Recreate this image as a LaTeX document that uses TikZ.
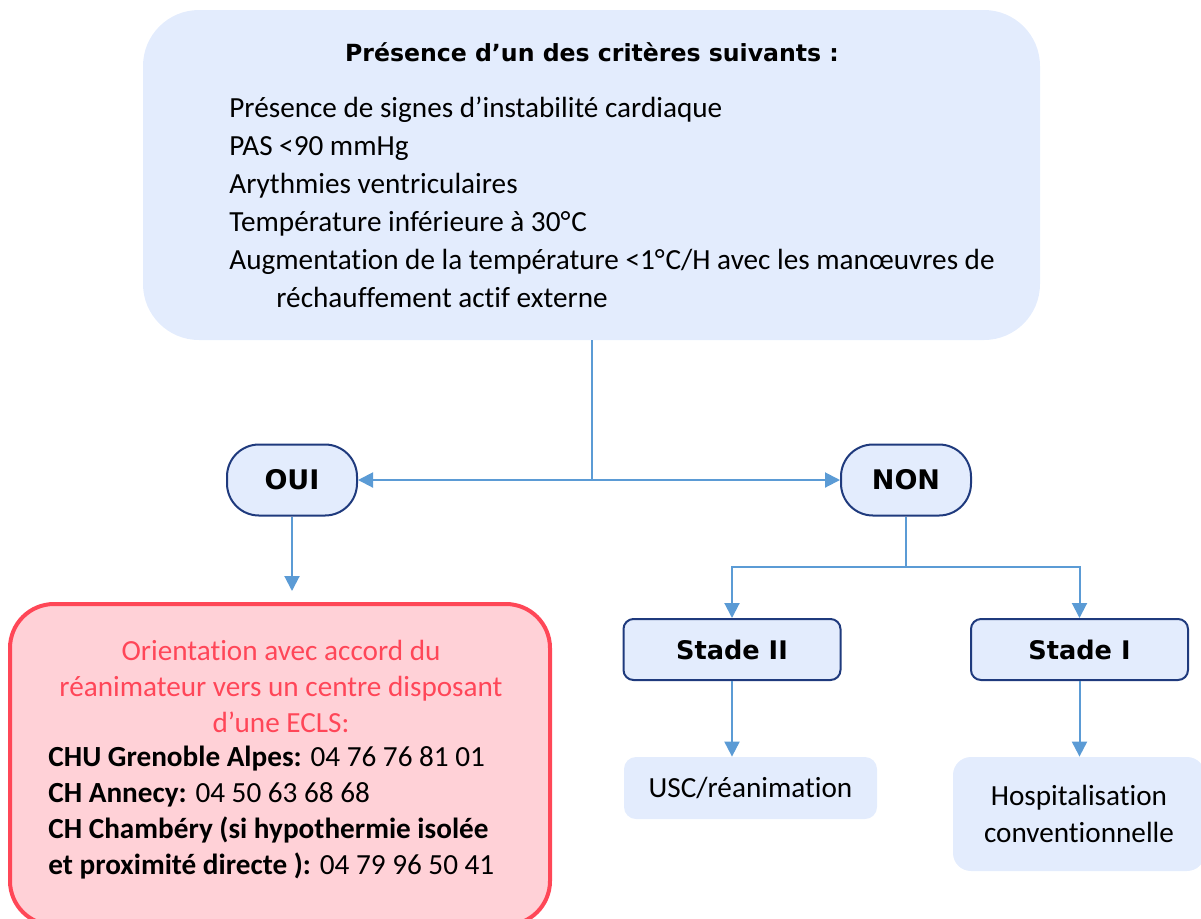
\documentclass[tikz,border=0pt]{standalone}
\usepackage{fontspec}
\setmainfont{Carlito}[RawFeature={-liga;-clig;-dlig}]
\newfontfamily\headfont{DejaVu Sans}
\usetikzlibrary{arrows.meta,positioning,calc}
\definecolor{navy}{HTML}{1F3A7D}
\definecolor{bluefill}{HTML}{E3ECFD}
\definecolor{linkblue}{HTML}{5B9BD5}
\definecolor{alertline}{HTML}{FF4757}
\definecolor{alertfill}{HTML}{FFD1D7}
\definecolor{alerttext}{HTML}{FF4658}
\tikzset{
  body/.style={font=\fontsize{14.6}{19}\selectfont, inner sep=0pt},
  head/.style={font=\headfont\bfseries\fontsize{13.5}{15}\selectfont},
  crit/.style={fill=bluefill, rounded corners=28pt, minimum width=448.5pt,
               minimum height=165pt, inner sep=0pt},
  pill/.style={head, draw=navy, line width=1pt, fill=bluefill, rounded corners=16pt,
               minimum width=65pt, minimum height=35.5pt, inner sep=0pt},
  stage/.style={head, font=\headfont\bfseries\fontsize{12.8}{15}\selectfont,
                draw=navy, line width=1pt, fill=bluefill, rounded corners=5pt,
                minimum width=108.5pt, minimum height=30.5pt, inner sep=0pt},
  dest/.style={body, fill=bluefill, align=center},
  alert/.style={draw=alertline, line width=2pt, fill=alertfill, rounded corners=22pt,
                minimum width=270pt, minimum height=160.5pt, inner sep=0pt},
  arrow/.style={-{Triangle[length=7.5pt,width=7.5pt]}, line width=1pt, draw=linkblue},
  link/.style={line width=1pt, draw=linkblue}
}

\begin{document}
\begin{tikzpicture}[x=0.5pt, y=-0.5pt]
  \useasboundingbox (0,0) rectangle (1201,918);

  \node[crit] (crit) at (591.5,175) {};
  \node[head, font=\headfont\bfseries\fontsize{11.8}{15}\selectfont, anchor=base, inner sep=0pt]
       (crittitle) at (592,61) {Présence d’un des critères suivants :};
  % base = baseline of the last line
  \node[body, align=left, anchor=base west] (critlist) at (229,307)
       {Présence de signes d’instabilité cardiaque\\
        PAS <90 mmHg\\
        Arythmies ventriculaires\\
        Température inférieure à 30°\kern0.4pt C\\
        Augmentation de la température <1°\kern0.4pt C/H avec les manœuvres de\\
        \hspace*{23.5pt}réchauffement actif externe};

  \node[pill] (oui) at (292,480) {OUI};
  \node[pill] (non) at (906,480) {NON};

  \node[alert] (ecls) at (280,764.5) {};
  \node[body, font=\fontsize{14.6}{18}\selectfont, text=alerttext, align=center, anchor=base]
       (orient) at (281,732)
       {Orientation avec accord du\\
        réanimateur vers un centre disposant\\
        d’une ECLS:};
  \node[body, font=\fontsize{14.6}{17.85}\selectfont, align=left, anchor=base west]
       (centres) at (48,874)
       {\textbf{CHU Grenoble Alpes:} 04 76 76 81 01\\
        \textbf{CH Annecy:} 04 50 63 68 68\\
        \textbf{CH Chambéry (si hypothermie isolée}\\
        \textbf{et proximité directe ):} 04 79 96 50 41};

  \node[stage] (stade2) at (732,649.5) {Stade II};
  \node[stage] (stade1) at (1079.5,649.5) {Stade I};

  \node[dest, rounded corners=6pt, minimum width=126.5pt, minimum height=31pt]
       (usc) at (750.5,788) {USC/réanimation};
  \node[dest, font=\fontsize{14.6}{18.5}\selectfont, rounded corners=9pt,
        minimum width=126pt, minimum height=57pt]
       (hosp) at (1079,814) {Hospitalisation\\conventionnelle};

  \coordinate (fork) at (906,567);

  \draw[arrow] (crit.south) |- (oui.east);
  \draw[arrow] (crit.south) |- (non.west);
  \draw[arrow, shorten >=5.5pt] (oui.south) -- (oui.south |- ecls.north);
  \draw[link] (non.south) -- (fork);
  \draw[arrow] (fork) -| (stade2.north);
  \draw[arrow] (fork) -| (stade1.north);
  \draw[arrow] (stade2.south) -- (stade2.south |- usc.north);
  \draw[arrow] (stade1.south) -- (stade1.south |- hosp.north);
\end{tikzpicture}
\end{document}
